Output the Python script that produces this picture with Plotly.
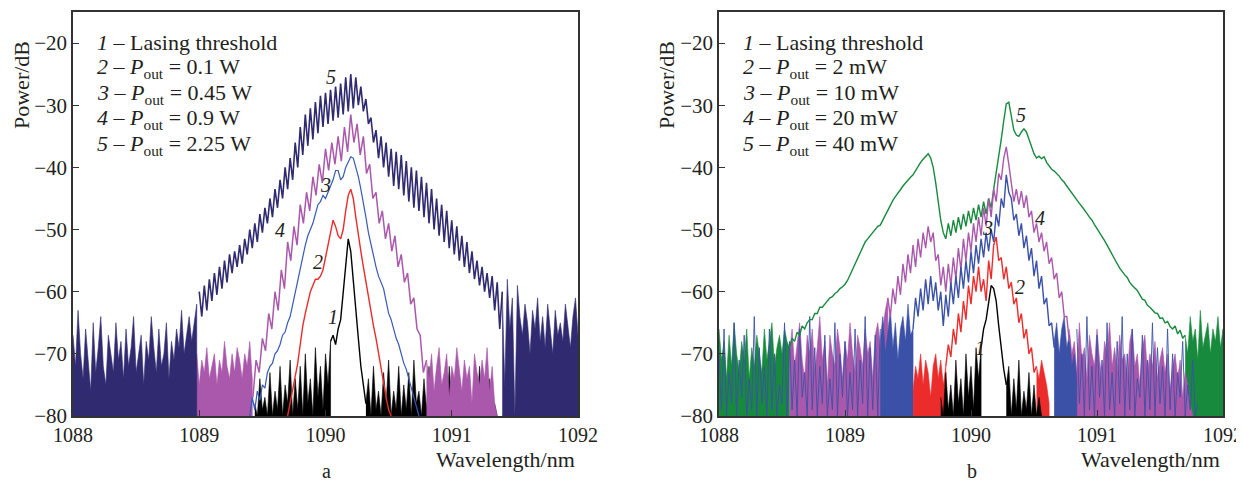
import plotly.graph_objects as go

# Fibre laser output spectra, (a) and (b); power in dB vs wavelength in nm
STEP = 0.02      # nm between samples (unless stated)
FLOOR = -80      # bottom of the OSA trace

# ---------------- panel a ----------------
a5_left_x0 = 1088.00
a5_left = [-67, -72, -63, -70, -74, -66, -71, -76, -65, -73, -69, -64, -72, -75, -67, -70, -73, -65, -71, -68,
           -74, -66, -72, -69, -64, -73, -70, -67, -75, -68, -71, -64, -69, -73, -66, -72, -70, -65, -74, -68,
           -71, -66, -69, -63, -70, -67, -64, -68, -65, -62]
a5_main_x0 = 1089.00
a5_main = [-60, -64, -59, -63, -58, -61.5, -57, -60.5, -56, -59.5,
           -55, -58.5, -54, -57, -53.5, -56, -52.5, -55.5, -51.5, -54,
           -50, -53, -49, -52, -47.5, -50.5, -46.5, -49, -45, -48,
           -43.5, -46.5, -42, -45, -40, -43.5, -38.5, -42, -36, -40,
           -33.5, -38, -31.5, -36.5, -30.5, -35.5, -29.5, -34.5, -28.5, -33.5,
           -28, -33, -27.5, -32.5, -27, -32, -26.5, -31.5, -25.5, -31,
           -25, -30.5, -25.5, -30, -27, -31, -29, -33, -32, -36,
           -34, -38.5, -35, -40, -36, -41.5, -37, -43, -37.5, -43.5,
           -38, -44.5, -39, -45.5, -40, -46.5, -40.5, -47, -41.5, -48,
           -42.5, -49, -43.5, -50, -45, -51, -46, -52, -47, -53,
           -48.5, -54, -49.5, -55, -51, -56, -52, -57, -53.5, -58,
           -55, -59, -56, -60, -57, -61, -57.5, -63, -58.5, -66,
           -60]
a5_right_x0 = 1091.40
a5_right = [-60, -75, -58, -66, -61, -80, -59, -64, -67, -62, -65, -70, -63, -66, -61, -68, -64, -69, -62, -66,
            -70, -63, -67, -65, -68, -62, -66, -69, -64, -61, -67]

a4_left_x0 = 1088.92
a4_left = [-76, -72, -74, -70, -75, -71, -73, -69, -74, -72, -70, -75, -71, -73, -68, -72, -74, -70, -73, -69,
           -71, -74, -70, -72, -68, -74]
a4_main_x0 = 1089.425
a4_main_step = 0.025
a4_main = [-77, -71, -73, -67.5, -69.5, -63.5, -66, -60, -63, -56.5,
           -59.5, -52, -55, -49.5, -52.5, -46, -49, -44, -47, -41.5,
           -44.5, -39.5, -42.5, -37, -40.5, -36, -39.5, -35, -39, -33.5,
           -37.5, -31.5, -36, -33, -38, -35, -41, -39.5, -45, -44,
           -49, -47, -51.5, -49, -53.5, -51, -56, -54, -58.5, -57,
           -62, -61, -66, -67, -73, -71]
a4_right_x0 = 1090.80
a4_right = [-71, -74, -70, -76, -72, -69, -75, -73, -70, -77, -72, -74, -69, -73, -76, -71, -74, -72, -78, -70,
            -73, -75, -71, -74, -69, -76, -72, -78, -80]

a3_main_x0 = 1089.40
a3_main = [-80, -77, -79, -76, -77.5, -75, -75.5, -73, -72, -71.5,
           -70, -69.5, -68.5, -67, -66.5, -65, -64, -62, -60, -58,
           -56, -54, -52.5, -51, -50, -49, -47.5, -46, -45.5, -44.5,
           -45, -44, -43, -42, -40.5, -40.5, -42, -41.5, -40, -39,
           -38.3, -38.5, -40, -41.5, -43.5, -45.5, -48, -50.5, -52.5, -54.5,
           -56, -57.5, -58.5, -59.5, -61.5, -63.5, -64.5, -66, -67.5, -68.5,
           -70, -71.5, -72.5, -74, -75.5, -77, -78.5, -80]

a2_main_x0 = 1089.70
a2_main = [-80, -78, -76, -74, -71.5, -68.5, -65.5, -63.5, -61.5, -60,
           -59, -58, -58, -57.5, -56.5, -54.5, -52, -50, -48.5, -49.5,
           -51, -51.5, -50, -47, -44.5, -43.5, -45, -48, -51, -53.5,
           -56, -58.5, -61, -63.5, -65.5, -67.5, -70, -72.5, -74.5, -77,
           -79, -80]

a1_left_x0 = 1089.44
a1_left = [-78, -80, -74, -79, -77, -80, -73, -80, -76, -79, -72, -80, -75, -78, -71, -80, -74, -79, -72, -80,
           -70, -78, -74, -80, -69, -77, -72, -79, -70, -75, -68]
a1_main_x0 = 1090.04
a1_main = [-68, -67, -68.5, -66, -64.5, -60, -55, -51.5, -53.5, -58.5, -63.5, -67.5, -72, -75, -78]
a1_right_x0 = 1090.32
a1_right = [-78, -74, -80, -72, -79, -76, -80, -73, -78, -71, -80, -76, -79, -72, -80, -75, -79, -73, -80, -71,
            -78, -76, -80, -74, -79, -72, -80, -77, -80, -73, -79, -75, -80, -72, -78, -76, -80, -74, -79, -73,
            -80, -77, -80, -75, -79, -72, -80, -76, -80, -74, -79, -78, -80]

# ---------------- panel b ----------------
b5_left_x0 = 1088.00
b5_left = [-66, -71, -68, -74, -67, -72, -65, -70, -73, -68, -71, -66, -74, -69, -72, -67, -70, -73, -66, -71,
           -68, -65, -72, -69, -67, -70, -66, -68, -69]
b5_main_x0 = 1088.56
b5_main = [-69, -67.5, -68, -66.5, -67, -65.5, -66, -65, -64.5, -64.5,
           -63.5, -63.5, -62.5, -62.5, -62, -61.5, -61, -60.8, -60.3, -60,
           -59.5, -59.2, -58.8, -58.2, -57.3, -56.3, -55.5, -54.5, -53.8, -52.8,
           -52, -51.5, -51, -50.5, -50, -49.5, -49.3, -48.5, -47.5, -46.8,
           -46, -45.3, -44.7, -44.2, -43.6, -43, -42.5, -42, -41.6, -41.2,
           -40.5, -39.8, -39.2, -38.7, -38.2, -37.8, -38.5, -40, -42.5, -45.5,
           -48.5, -50.5, -51.5, -49, -51, -48.5, -50.5, -48, -50, -47.5,
           -49.5, -47, -49, -46.5, -48.5, -46, -48, -45.5, -47.5, -45,
           -46.5, -43.5, -41, -38, -35.5, -32.5, -29.8, -29.5, -31.5, -34,
           -34.8, -35, -34.3, -33.8, -34.3, -35.5, -36.8, -37.8, -38.5, -38.2,
           -38.6, -38.3, -39.2, -39.7, -40.3, -40.6, -41, -41.4, -42, -42.4,
           -43, -43.6, -44.2, -44.7, -45.2, -45.8, -46.3, -46.8, -47.4, -48,
           -48.5, -49.2, -49.8, -50.4, -51, -51.8, -52.5, -53.3, -54, -54.8,
           -55.5, -56.2, -56.8, -57.3, -57.7, -58.5, -59, -59.4, -59.8, -60.5,
           -61.2, -61.4, -62.2, -62.5, -63, -63.4, -63.5, -64.3, -64.2, -65,
           -64.8, -65.6, -66, -65.5, -66.8, -66.2, -67.5, -67]
b5_right_x0 = 1091.70
b5_right = [-67, -70, -64, -68, -66, -71, -63, -69, -67, -65, -70, -66, -68, -64, -69, -66]

b4_left_x0 = 1088.56
b4_left = [-70, -66, -72, -68, -65, -71, -74, -67, -70, -66, -73, -69, -64, -71, -68, -75, -67, -70, -72, -66,
           -69, -74, -68, -71, -65, -70, -73, -67, -69, -72, -66, -70, -68, -74, -67, -65, -69, -66, -63, -61]
b4_main_x0 = 1089.34
b4_main = [-61, -64, -59.5, -62, -57.5, -60.5, -55.5, -58.5, -54, -57,
           -52.5, -56, -51.5, -54.5, -50.5, -53, -49.5, -52, -50.5, -55,
           -54, -59, -56, -60, -55.5, -59, -54.5, -58, -53, -56.5,
           -51.5, -55, -50.5, -53.5, -49, -52, -48, -51, -46.5, -49.5,
           -45, -48, -43.5, -45.5, -41, -42, -38.5, -36.7, -39.5, -43,
           -45.5, -43.5, -46, -43.8, -46.5, -44.5, -48, -47, -50.5, -49,
           -52, -50.5, -53.5, -52, -55.5, -54.5, -58, -57, -61, -60,
           -64, -64, -68]
b4_right_x0 = 1090.78
b4_right = [-66, -70, -68, -73, -65, -71, -69, -74, -67, -70, -72, -66, -71, -74, -68, -70, -65, -72, -69, -73,
            -67, -71, -70, -74, -68, -66, -72, -70, -75, -69, -67, -73, -70, -72, -68, -74, -71, -69, -73, -70,
            -76, -72, -70, -74, -71, -77, -73, -75, -78, -80]

b3_left_x0 = 1089.28
b3_left = [-68, -64, -70, -66, -63, -69, -65, -71, -66, -64, -68, -62, -67, -66]
b3_main_x0 = 1089.54
b3_main = [-66, -61, -64, -59.5, -63, -58, -62, -57.5, -61.5, -58.5,
           -63, -60, -65.5, -60.5, -64, -58.5, -62, -57.5, -61, -56,
           -59.5, -55, -58.5, -53.5, -57, -52.5, -55.5, -51.5, -54.5, -50.5,
           -53.5, -50, -52, -47.5, -49.5, -45, -46.5, -41.2, -44, -45,
           -48.5, -47.5, -51, -49, -53, -51, -55, -53, -57.5, -55,
           -59.5, -57.5, -62, -61, -65.5, -65, -69]
b3_right_x0 = 1090.66
b3_right = [-68, -65, -70, -66, -64, -69, -67, -72, -70, -74]
# blue noise spikes that stand above the green / purple floor
b3_spk_left_x0 = 1088.00
b3_spk_left = [-70, -79, -66, -80, -73, -78, -65, -80, -71, -77, -67, -80, -74, -79, -64, -80, -69, -78, -72, -80,
               -66, -79, -70, -80, -75, -78, -65, -80, -68, -79, -71, -80, -66, -77, -73, -80, -64, -79, -69, -80,
               -72, -78, -67, -80, -74, -79, -65, -80, -70, -77, -68, -80, -73, -79, -66, -80, -71, -78, -64, -80,
               -69, -79, -67, -80, -66]
b3_spk_right_x0 = 1090.84
b3_spk_right = [-66, -78, -70, -80, -64, -79, -72, -80, -67, -77, -71, -80, -65, -79, -73, -80, -68, -78, -64, -80,
                -70, -79, -66, -80, -74, -77, -67, -80, -71, -79, -65, -80, -69, -78, -72, -80, -66, -79, -70, -80,
                -73, -77, -68, -80, -75, -79, -71, -80, -78]

b2_left_x0 = 1089.54
b2_left = [-76, -72, -74, -70, -75, -71, -73, -77, -72, -70, -74, -71, -75, -72]
b2_main_x0 = 1089.80
b2_main = [-72, -68.5, -70.5, -66, -68.5, -63.5, -66.5, -61.5, -64.5, -59,
           -62, -57.5, -60, -56, -60, -58, -61.5, -55, -58, -52.5,
           -51.2, -55, -54.5, -58, -56, -59.5, -58.5, -62, -61, -65,
           -63.5, -67.5, -66, -70, -69, -73, -72]
b2_right_x0 = 1090.52
b2_right = [-72, -74, -71, -73, -75, -78]

b1_left_x0 = 1089.76
b1_left = [-77, -80, -73, -79, -75, -80, -71, -78, -74, -80, -70, -77, -72, -79, -69, -74, -69]
b1_main_x0 = 1090.08
b1_main = [-69, -66, -64.5, -61.5, -59, -59.5, -61.5, -65.5, -69.5, -72.5, -75]
b1_right_x0 = 1090.28
b1_right = [-75, -72, -80, -74, -79, -71, -80, -76, -79, -73, -80, -75, -80, -77, -80]

legend_a = ["<i>1</i> – Lasing threshold",
            "<i>2</i> – <i>P</i><sub>out</sub> = 0.1 W",
            "<i>3</i> – <i>P</i><sub>out</sub> = 0.45 W",
            "<i>4</i> – <i>P</i><sub>out</sub> = 0.9 W",
            "<i>5</i> – <i>P</i><sub>out</sub> = 2.25 W"]
legend_b = ["<i>1</i> – Lasing threshold",
            "<i>2</i> – <i>P</i><sub>out</sub> = 2 mW",
            "<i>3</i> – <i>P</i><sub>out</sub> = 10 mW",
            "<i>4</i> – <i>P</i><sub>out</sub> = 20 mW",
            "<i>5</i> – <i>P</i><sub>out</sub> = 40 mW"]
# curve number labels: (wavelength, dB, text)
labels_a = [(1090.06, -64, "1"), (1089.94, -55.2, "2"), (1090.00, -42.8, "3"), (1089.64, -50, "4"), (1090.04, -25.5, "5")]
labels_b = [(1090.07, -69, "1"), (1090.39, -59.2, "2"), (1090.13, -49.8, "3"), (1090.55, -48.2, "4"), (1090.40, -31.6, "5")]

NAVY = "#302b70"
MAGENTA = "#aa58ab"
BLUE_A = "#3659b2"
BLUE_B = "#3a51a7"
RED = "#ec2b2b"
BLACK = "#000000"
GREEN = "#178a3d"
FONT = "Liberation Serif"
TXT = "#231f20"

fig = go.Figure()


def grid(x0, vals, step=STEP):
    return [round(x0 + i * step, 4) for i in range(len(vals))]


def noise(x0, vals, color, ax):
    xs = grid(x0, vals)
    fig.add_trace(go.Scatter(x=xs + [xs[-1], xs[0]], y=vals + [FLOOR, FLOOR], fill="toself",
                             fillcolor=color, mode="lines", line=dict(color=color, width=0.6),
                             xaxis="x" + ax, yaxis="y" + ax, hoverinfo="skip", showlegend=False))


def line(x0, vals, color, width, ax, step=STEP):
    fig.add_trace(go.Scatter(x=grid(x0, vals, step), y=vals, mode="lines",
                             line=dict(color=color, width=width),
                             xaxis="x" + ax, yaxis="y" + ax, showlegend=False))


# panel a: noise floors first, then the spectra
noise(a1_left_x0, a1_left, BLACK, "")
noise(a1_right_x0, a1_right, BLACK, "")
noise(a4_left_x0, a4_left, MAGENTA, "")
noise(a4_right_x0, a4_right, MAGENTA, "")
noise(a5_left_x0, a5_left, NAVY, "")
noise(a5_right_x0, a5_right, NAVY, "")
line(a5_main_x0, a5_main, NAVY, 1.6, "")
line(a4_main_x0, a4_main, MAGENTA, 1.5, "", a4_main_step)
line(a3_main_x0, a3_main, BLUE_A, 1.2, "")
line(a2_main_x0, a2_main, RED, 1.4, "")
line(a1_main_x0, a1_main, BLACK, 1.4, "")

# panel b
noise(b5_left_x0, b5_left, GREEN, "2")
noise(b5_right_x0, b5_right, GREEN, "2")
noise(b4_left_x0, b4_left, MAGENTA, "2")
noise(b4_right_x0, b4_right, MAGENTA, "2")
line(b3_spk_left_x0, b3_spk_left, BLUE_B, 0.9, "2")
line(b3_spk_right_x0, b3_spk_right, BLUE_B, 0.9, "2")
noise(b3_left_x0, b3_left, BLUE_B, "2")
noise(b3_right_x0, b3_right, BLUE_B, "2")
noise(b2_left_x0, b2_left, RED, "2")
noise(b2_right_x0, b2_right, RED, "2")
noise(b1_left_x0, b1_left, BLACK, "2")
noise(b1_right_x0, b1_right, BLACK, "2")
line(b5_main_x0, b5_main, GREEN, 1.4, "2")
line(b4_main_x0, b4_main, MAGENTA, 1.4, "2")
line(b3_main_x0, b3_main, BLUE_B, 1.4, "2")
line(b2_main_x0, b2_main, RED, 1.4, "2")
line(b1_main_x0, b1_main, BLACK, 1.4, "2")

# the page body adds an 8 px offset, so the figure is 8 px smaller and
# all reference pixel positions below are shifted by that amount
OFF = 8
FIG_W, FIG_H = 1244 - OFF, 484 - OFF
TOP, BOT = 12, 416          # plot top / bottom in page pixels


def px(x):
    return (x - OFF) / FIG_W


def py(y):
    return (BOT - y) / (BOT - TOP)


ann = []
for lx, ly, t in labels_a:
    ann.append(dict(x=lx, y=ly, xref="x", yref="y", text="<i>" + t + "</i>", showarrow=False,
                    xanchor="center", yanchor="middle", font=dict(family=FONT, size=20, color=TXT)))
for lx, ly, t in labels_b:
    ann.append(dict(x=lx, y=ly, xref="x2", yref="y2", text="<i>" + t + "</i>", showarrow=False,
                    xanchor="center", yanchor="middle", font=dict(family=FONT, size=20, color=TXT)))
rows_y = [43, 68, 94, 119, 145]
for x0, texts in ((95, legend_a), (741, legend_b)):
    for yy, t in zip(rows_y, texts):
        ann.append(dict(x=px(x0), y=py(yy), xref="paper", yref="paper", text=t, showarrow=False,
                        xanchor="left", yanchor="middle", font=dict(family=FONT, size=22, color=TXT)))
for xx in (21, 666):
    ann.append(dict(x=px(xx), y=py(85), xref="paper", yref="paper", text="Power/dB", textangle=-90,
                    xanchor="center", yanchor="middle", showarrow=False,
                    font=dict(family=FONT, size=22, color=TXT)))
for xx in (577, 1222):
    ann.append(dict(x=px(xx), y=py(459), xref="paper", yref="paper", text="Wavelength/nm",
                    xanchor="right", yanchor="middle", showarrow=False,
                    font=dict(family=FONT, size=22, color=TXT)))
for xx, t in ((326, "a"), (972, "b")):
    ann.append(dict(x=px(xx), y=py(484), xref="paper", yref="paper", text=t, showarrow=False,
                    xanchor="center", yanchor="bottom", font=dict(family=FONT, size=20, color=TXT)))

xax = dict(range=[1088, 1092], tickvals=[1088, 1089, 1090, 1091, 1092], ticks="inside", ticklen=6,
           tickwidth=1.2, tickcolor="#333", showline=True, linecolor="#333", linewidth=1.6, mirror=True,
           showgrid=False, zeroline=False, automargin=False, tickfont=dict(family=FONT, size=20, color=TXT))
yax = dict(range=[-80, -15], tickvals=[-80, -70, -60, -50, -40, -30, -20], ticks="inside", ticklen=6,
           tickwidth=1.2, tickcolor="#333", showline=True, linecolor="#333", linewidth=1.6, mirror=True,
           showgrid=False, zeroline=False, automargin=False, tickfont=dict(family=FONT, size=21, color=TXT))

fig.update_layout(
    width=FIG_W, height=FIG_H,
    margin=dict(l=0, r=0, t=TOP - OFF, b=FIG_H - (BOT - OFF), autoexpand=False),
    paper_bgcolor="white", plot_bgcolor="white", showlegend=False,
    xaxis=dict(xax, domain=[px(73), px(578)], anchor="y"),
    yaxis=dict(yax, domain=[0, 1], anchor="x"),
    xaxis2=dict(xax, domain=[px(719), px(1223)], anchor="y2"),
    yaxis2=dict(yax, domain=[0, 1], anchor="x2"),
    annotations=ann,
)

fig.write_html("out.html")
